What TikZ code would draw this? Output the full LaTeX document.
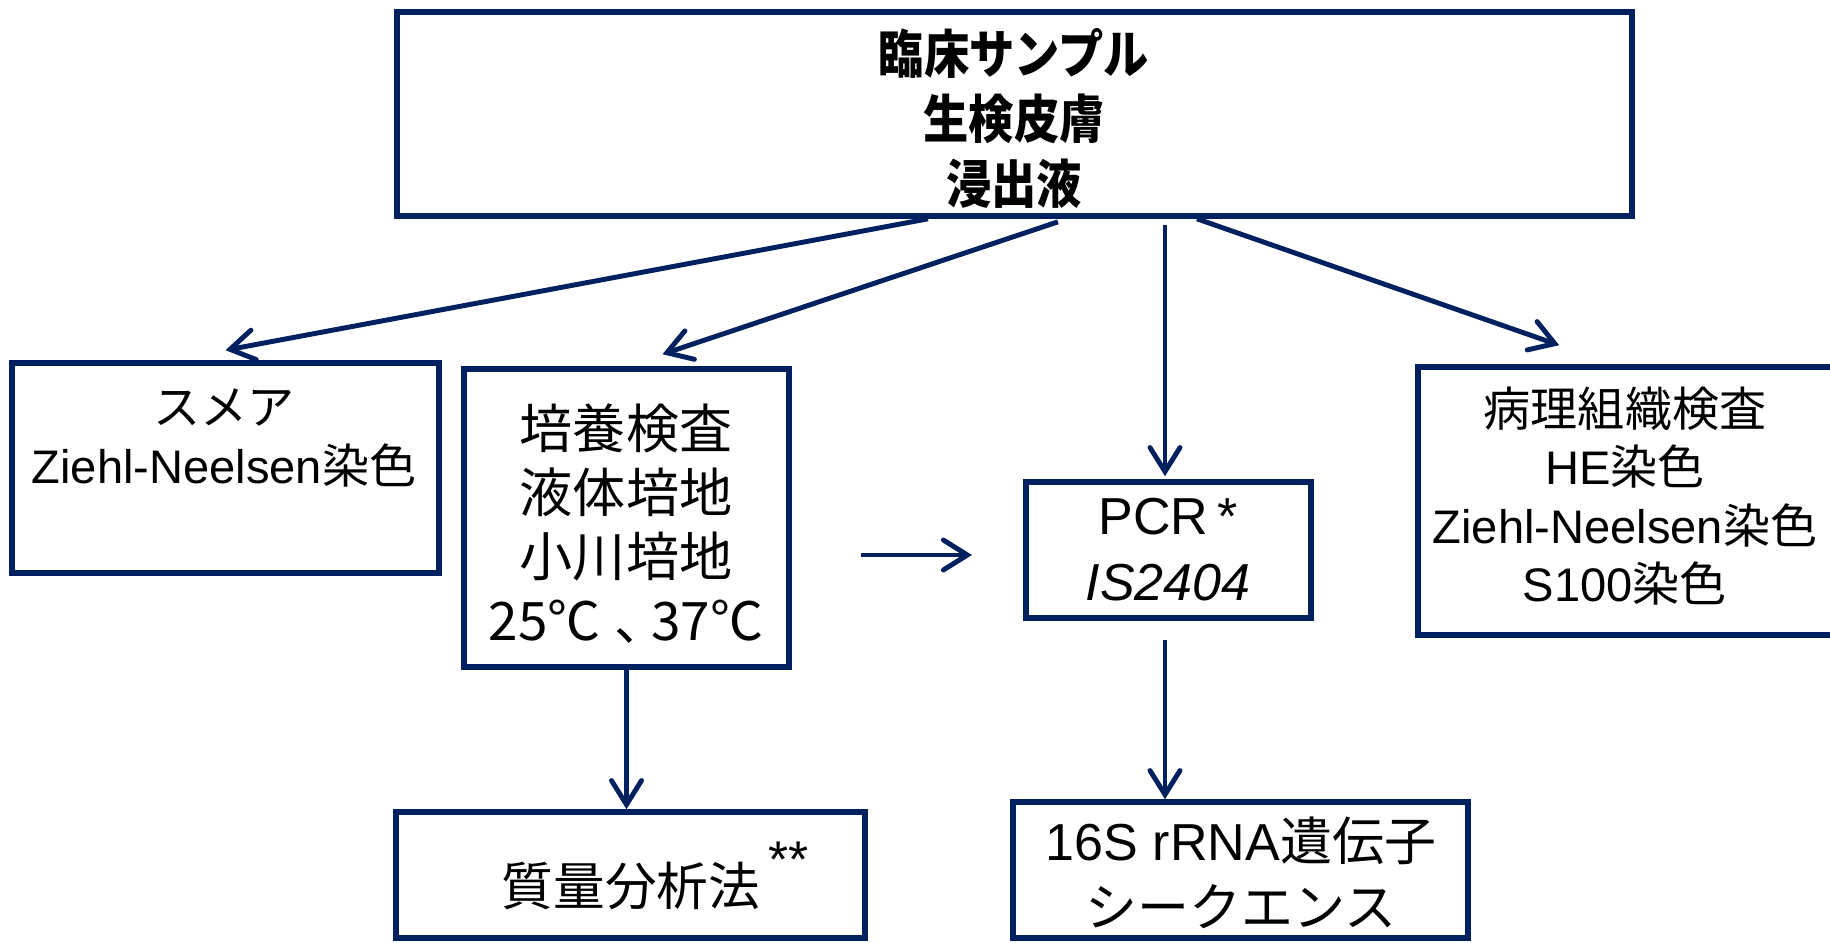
\documentclass[tikz,border=0pt]{standalone}
\usepackage{fontspec}
\setmainfont{Liberation Sans}
\newfontfamily\jp{Noto Sans CJK JP}
\newfontfamily\jpbf[FakeStretch=0.87]{Noto Sans CJK JP}
\usetikzlibrary{arrows.meta}
\definecolor{navy}{RGB}{0,32,96}

\begin{document}
\begin{tikzpicture}[
  x = 0.1mm, y = -0.1mm,
  box/.style = {
    shape = rectangle,
    draw = navy,
    line width = 1.6pt,
    inner sep = 0pt,
  },
  label/.style = {
    align = center,
    inner sep = 0pt,
  },
  link/.style = {
    draw = navy,
    line width = 1.4pt,
    -{Straight Barb[length = 2.4mm, width = 3mm, line cap = round]},
  }
]
  \useasboundingbox (0, 0) rectangle (1830, 942);

  % boxes
  \node[box, minimum width = 123.5mm, minimum height = 20.4mm] (sample) at (1014.5, 114) {};
  \node[box, minimum width = 42.7mm, minimum height = 21mm] (smear) at (225.5, 468) {};
  \node[box, minimum width = 32.5mm, minimum height = 29.8mm] (culture) at (626.5, 518) {};
  \node[box, minimum width = 28.5mm, minimum height = 13.6mm] (pcr) at (1168.5, 550) {};
  \node[box, minimum width = 41.6mm, minimum height = 26.8mm] (histo) at (1626, 501) {};
  \node[box, minimum width = 46.9mm, minimum height = 12.6mm] (mass) at (630.5, 875) {};
  \node[box, minimum width = 45.5mm, minimum height = 13.6mm] (seq) at (1240.5, 870) {};

  % texts
  \node[label, font = \jpbf\bfseries\fontsize{14.8}{18.5}\selectfont] (sampletxt) at (1014, 118)
    {臨床サンプル\\生検皮膚\\浸出液};
  \node[label, font = \fontsize{13.4}{16.8}\selectfont] (smeartxt) at (224, 438)
    {{\jp スメア}\\Ziehl-Neelsen{\jp 染色}};
  \node[label, font = \jp\fontsize{15.1}{18.2}\selectfont] (culturetxt) at (626, 524)
    {培養検査\\液体培地\\小川培地\\25℃\hspace{0.25em}、\hspace{-0.3em}37℃};
  \node[label, font = \fontsize{14.8}{18.8}\selectfont] (pcrtxt) at (1168, 550)
    {PCR\,*\\\textit{IS2404}};
  \node[label, font = \fontsize{13.4}{16.6}\selectfont] (histotxt) at (1625, 496)
    {{\jp 病理組織検査}\\HE{\jp 染色}\\Ziehl-Neelsen{\jp 染色}\\S100{\jp 染色}};
  \node[label, font = \fontsize{14.7}{18.5}\selectfont] (masstxt) at (631, 876)
    {{\jp 質量分析法}\rlap{\,\raisebox{0.55em}{**}}};
  \node[label, font = \fontsize{14.8}{18.8}\selectfont] (seqtxt) at (1241, 873)
    {16S rRNA{\jp 遺伝子}\\{\jp シークエンス}};

  \coordinate (cfrom) at (861, 555);
  \coordinate (cto) at (972, 555);

  % arrows
  \draw[link] ([xshift = -8.65mm]sample.south) -- ([yshift = 1mm]smear.north);
  \draw[link] ([xshift = 4.35mm, yshift = -0.3mm]sample.south) -- ([xshift = 3.6mm, yshift = 1.2mm]culture.north);
  \draw[link] ([xshift = 15.05mm, yshift = -0.6mm]sample.south) -- ([xshift = 15.05mm, yshift = 0.3mm]sample.south |- pcr.north);
  \draw[link] ([xshift = 18.25mm]sample.south) -- ([xshift = 14.4mm, yshift = 1.9mm]histo.north west);
  \draw[link] (cfrom) -- (cto);
  \draw[link] (culture.south) -- (culture.south |- mass.north);
  \draw[link] ([xshift = -0.35mm, yshift = -1.9mm]pcr.south) -- ([xshift = -0.35mm]pcr.south |- seq.north);
\end{tikzpicture}
\end{document}
